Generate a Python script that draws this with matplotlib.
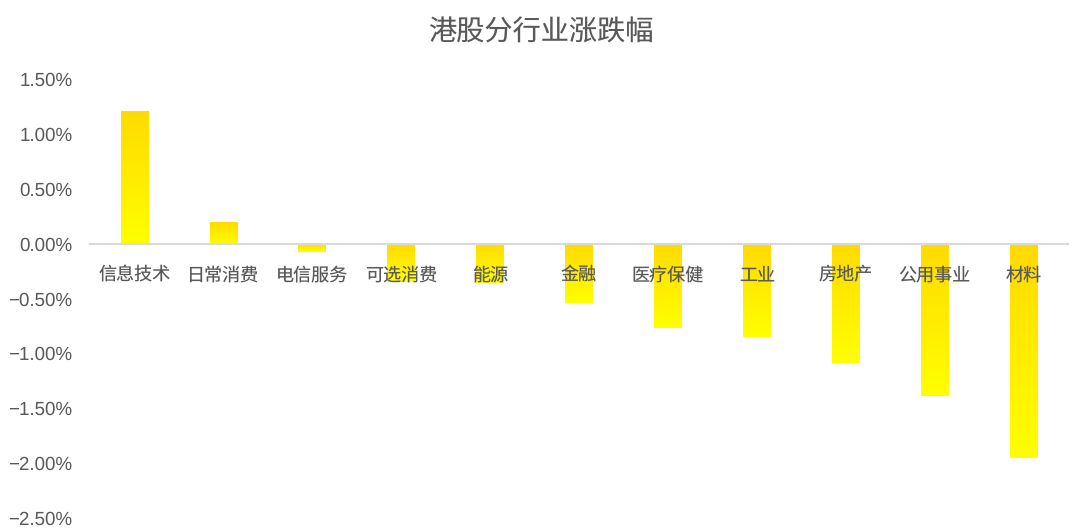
import numpy as np
import matplotlib
matplotlib.use("Agg")
import matplotlib.pyplot as plt
from matplotlib.colors import LinearSegmentedColormap
from matplotlib.ticker import FuncFormatter

plt.rcParams['font.family'] = ['Liberation Sans', 'Noto Sans CJK SC']
plt.rcParams['axes.unicode_minus'] = True
plt.rcParams['text.hinting'] = 'no_hinting'

sectors = ["信息技术", "日常消费", "电信服务", "可选消费", "能源", "金融",
           "医疗保健", "工业", "房地产", "公用事业", "材料"]
changes = [1.21, 0.20, -0.08, -0.35, -0.36, -0.54, -0.77, -0.85, -1.09, -1.39, -1.95]
y_ticks = [1.5, 1.0, 0.5, 0.0, -0.5, -1.0, -1.5, -2.0, -2.5]

fig = plt.figure(figsize=(10.92, 5.32), dpi=100)
ax = fig.add_axes([0.0824, 0.0263, 0.8956, 0.8252])

x = np.arange(len(sectors))
bars = ax.bar(x, changes, width=0.31, facecolor="none", edgecolor="none")

# gold at the top of each bar fading to bright yellow at the bottom
cmap = LinearSegmentedColormap.from_list("gy", ["#FFDA00", "#FFFF00"])
grad = np.linspace(0, 1, 256).reshape(-1, 1)
for b in bars:
    x0 = b.get_x()
    y0, y1 = sorted([b.get_y(), b.get_y() + b.get_height()])
    ax.imshow(grad, cmap=cmap, extent=[x0, x0 + b.get_width(), y0, y1],
              origin="upper", aspect="auto", zorder=1)

ax.set_xlim(-0.5, len(sectors) - 0.5)
ax.set_ylim(-2.5, 1.5)
ax.set_yticks(y_ticks)
ax.yaxis.set_major_formatter(FuncFormatter(lambda v, p: f"{v:.2f}%".replace("-", "\u2212")))
ax.set_xticks(x)
ax.set_xticklabels(sectors, family="Noto Sans CJK SC", va="baseline")

for s in ["top", "right", "left"]:
    ax.spines[s].set_visible(False)
ax.spines["bottom"].set_position(("data", 0))
ax.spines["bottom"].set_color("#d9d9d9")
ax.spines["bottom"].set_linewidth(1.5)
ax.spines["bottom"].set_zorder(3)

ax.tick_params(axis="x", length=0, pad=17, labelsize=13, labelcolor="#595959")
ax.tick_params(axis="y", length=0, pad=12.5, labelsize=13.5, labelcolor="#595959")
for lbl in ax.get_xticklabels():
    lbl.set_zorder(5)

fig.text(0.4954, 0.9246, "港股分行业涨跌幅", ha="center", va="baseline", fontsize=20.3,
         color="#595959", family="Noto Sans CJK SC")

fig.savefig("out.png", dpi=100)
